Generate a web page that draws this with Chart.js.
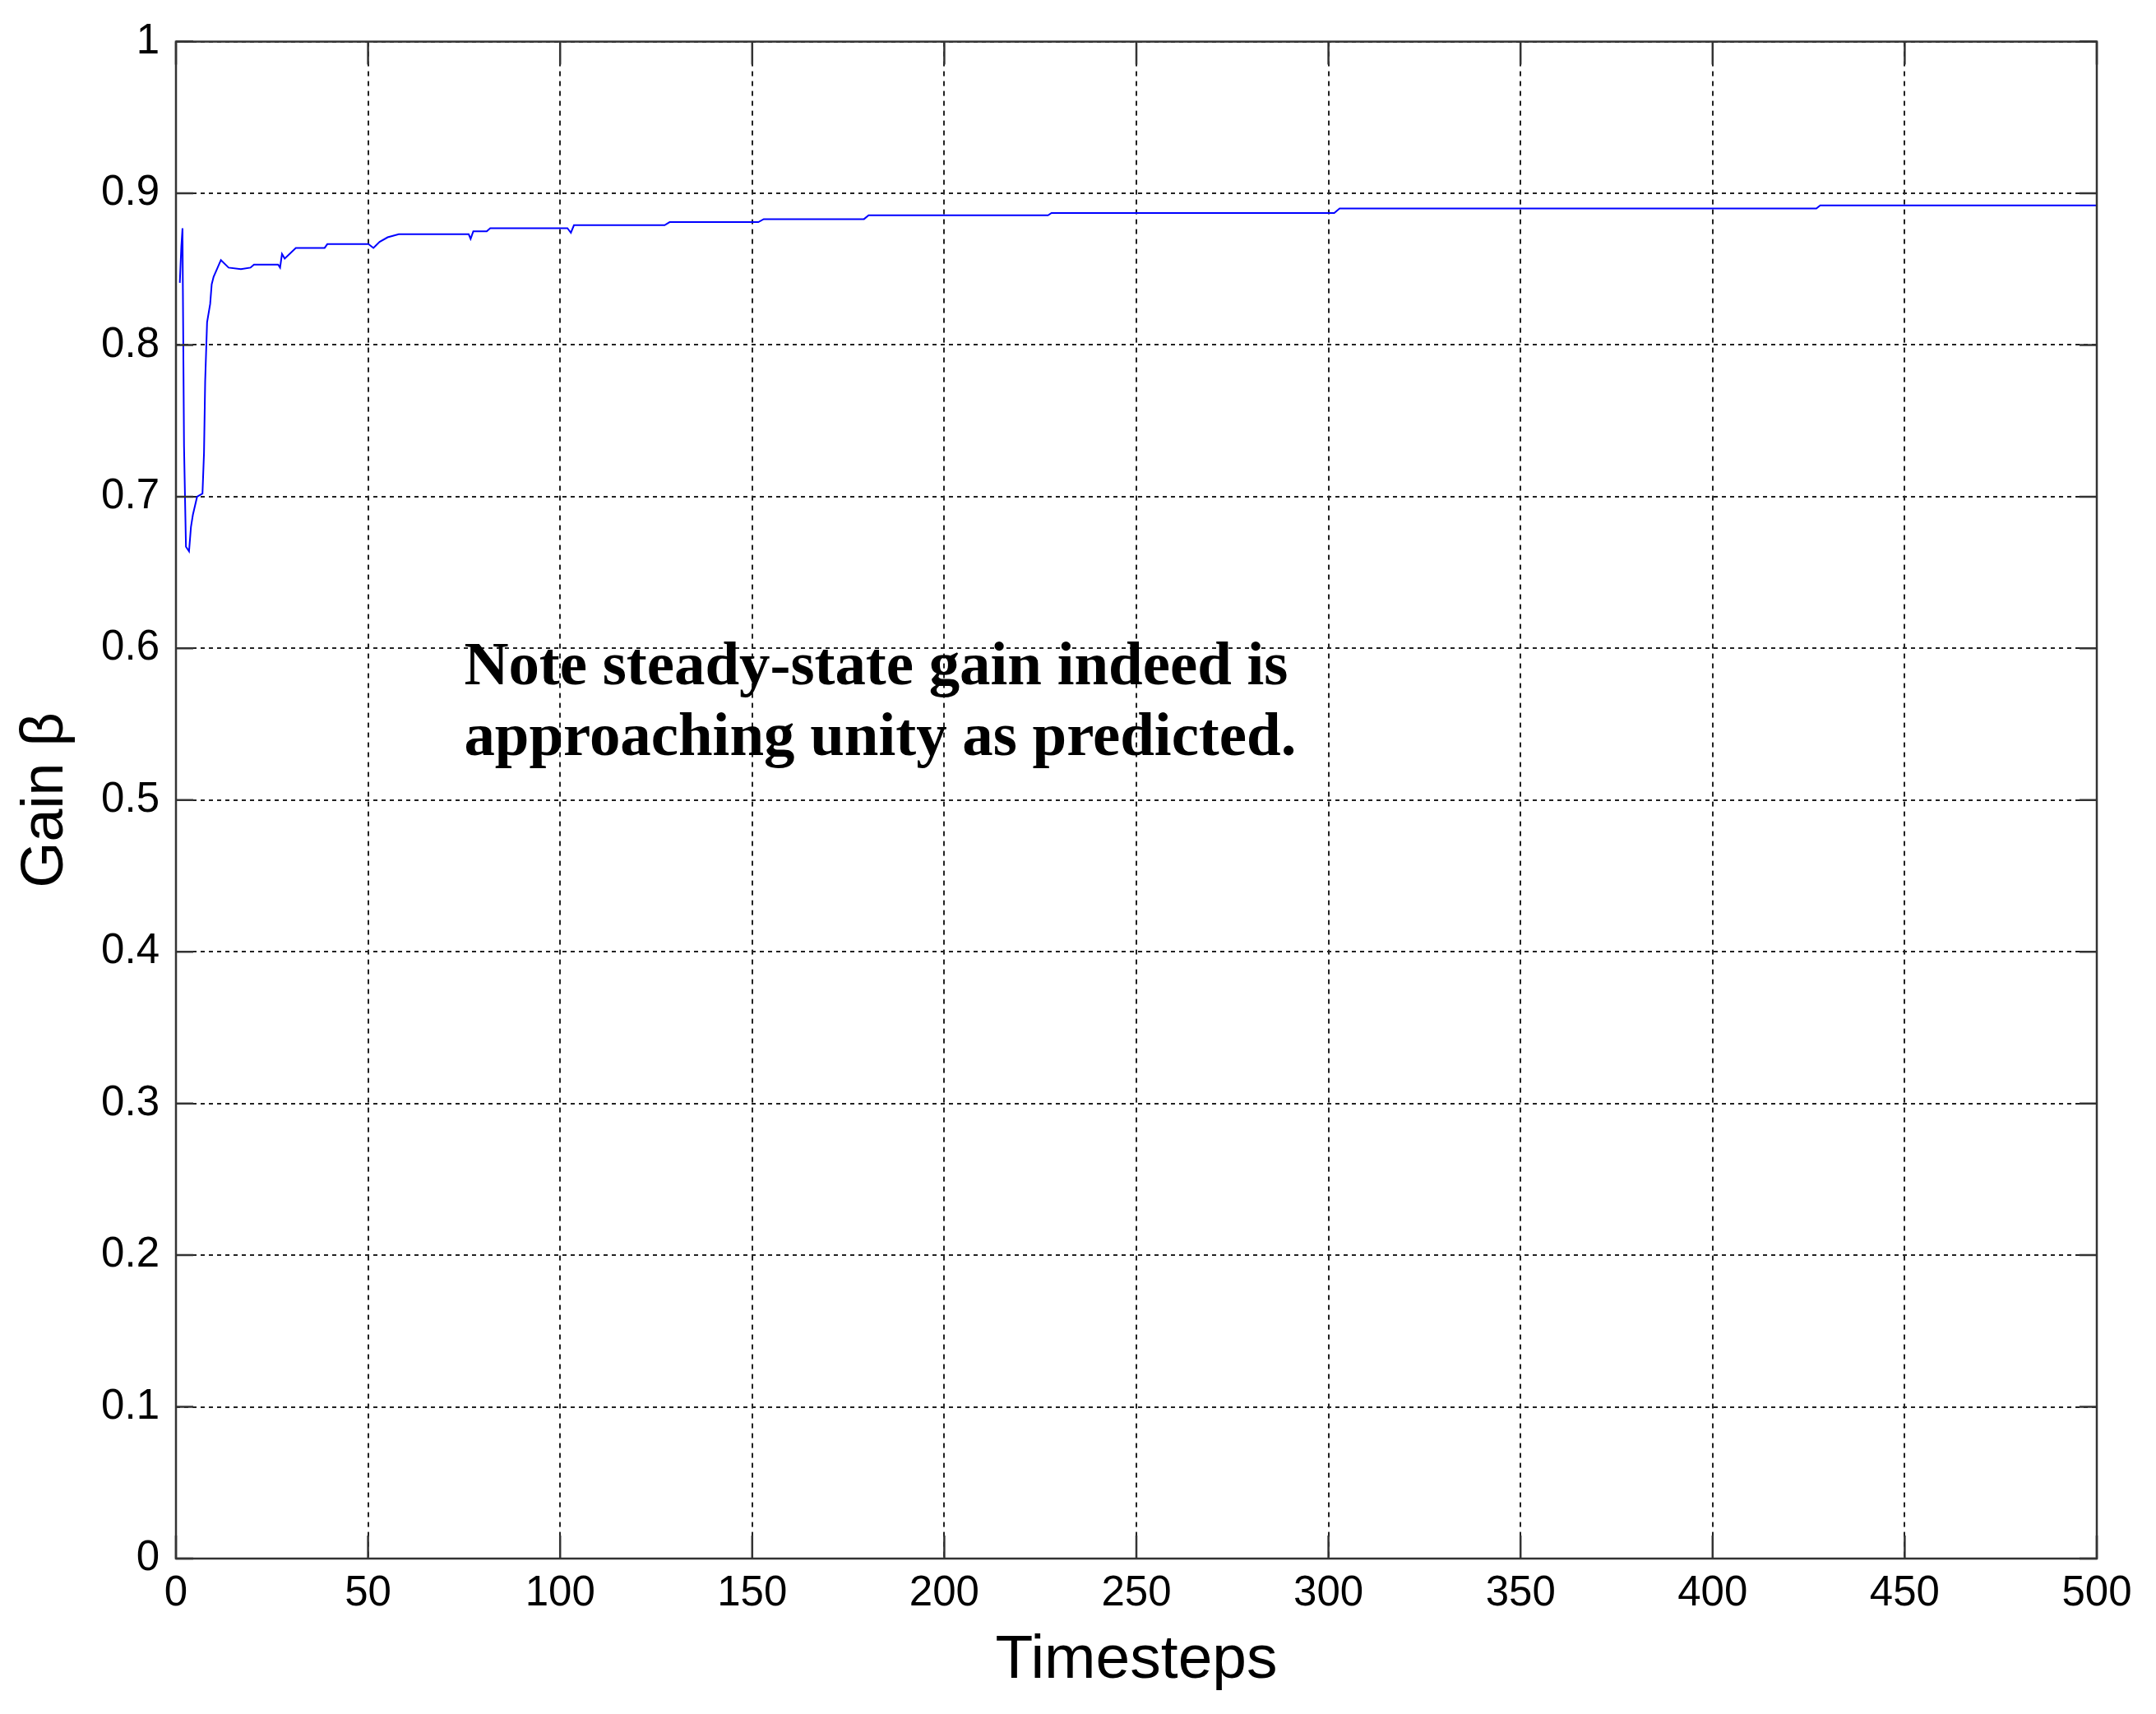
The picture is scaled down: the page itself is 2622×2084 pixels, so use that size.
<!DOCTYPE html>
<html>
<head>
<meta charset="utf-8">
<script src="https://cdn.jsdelivr.net/npm/chart.js@4.4.1/dist/chart.umd.min.js"></script>
<style>
  html, body { margin: 0; padding: 0; background: #fff; }
  canvas { display: block; }
</style>
</head>
<body>
<canvas id="gain-chart" width="2622" height="2084"></canvas>
<script>
// gain beta vs timestep
const timesteps = [1, 1.4, 1.7, 1.8, 2.1, 2.6, 3.4, 3.9, 4.4, 5.5, 6.9, 7.3, 7.6, 8.1, 8.9, 9.3, 9.8,
  11.7, 13.7, 16.9, 19.4, 20.3, 26.6, 27.1, 27.6, 28.3, 31.2, 38.7, 39.4, 50.1, 51.4, 53, 55.1, 58,
  76.2, 76.7, 77.4, 80.9, 81.8, 101.9, 102.8, 103.6, 127.2, 128.5, 151.6, 153, 179.1, 180.3,
  227, 227.9, 301.5, 302.9, 427, 428, 500];
const gain = [0.841, 0.865, 0.877, 0.837, 0.733, 0.667, 0.664, 0.680, 0.688, 0.700, 0.702, 0.729, 0.776, 0.815, 0.827, 0.840, 0.845,
  0.856, 0.851, 0.850, 0.851, 0.853, 0.853, 0.851, 0.860, 0.857, 0.864, 0.864, 0.8665, 0.8665, 0.864, 0.868, 0.871, 0.873,
  0.873, 0.870, 0.875, 0.875, 0.877, 0.877, 0.874, 0.879, 0.879, 0.881, 0.881, 0.883, 0.883, 0.8855,
  0.8855, 0.887, 0.887, 0.890, 0.890, 0.892, 0.892];

const xTicks = [0, 50, 100, 150, 200, 250, 300, 350, 400, 450, 500];
const yTicks = [0, 0.1, 0.2, 0.3, 0.4, 0.5, 0.6, 0.7, 0.8, 0.9, 1];
const noteLines = ["Note steady-state gain indeed is", "approaching unity as predicted."];

const sans = "'Liberation Sans', Arial, sans-serif";

// axes box + inward ticks (matlab style) and the text note
const matlabAxes = {
  id: "matlabAxes",
  afterDraw(chart) {
    const ctx = chart.ctx;
    const a = chart.chartArea;
    const xs = chart.scales.x, ys = chart.scales.y;
    ctx.save();
    ctx.strokeStyle = "#333";
    ctx.lineWidth = 2.5;
    ctx.beginPath();
    xTicks.forEach(v => {
      const px = xs.getPixelForValue(v);
      ctx.moveTo(px, a.bottom); ctx.lineTo(px, a.bottom - 28);
      ctx.moveTo(px, a.top); ctx.lineTo(px, a.top + 28);
    });
    yTicks.forEach(v => {
      const py = ys.getPixelForValue(v);
      ctx.moveTo(a.left, py); ctx.lineTo(a.left + 21, py);
      ctx.moveTo(a.right, py); ctx.lineTo(a.right - 21, py);
    });
    ctx.stroke();
    ctx.strokeRect(a.left, a.top, a.right - a.left, a.bottom - a.top);

    // note text
    ctx.fillStyle = "#000";
    ctx.font = "bold 74px 'Liberation Serif', 'Times New Roman', serif";
    ctx.textBaseline = "alphabetic";
    const sx = 1002 / ctx.measureText(noteLines[0]).width;
    const left = xs.getPixelForValue(75);
    [ys.getPixelForValue(0.5762), ys.getPixelForValue(0.5295)].forEach((by, i) => {
      ctx.save();
      ctx.translate(left, by);
      ctx.scale(sx, 1);
      ctx.fillText(noteLines[i], 0, 0);
      ctx.restore();
    });
    ctx.restore();
  }
};

const gridStyle = { color: "#222", lineWidth: 2, drawTicks: false };

new Chart(document.getElementById("gain-chart").getContext("2d"), {
  type: "scatter",
  data: {
    datasets: [{
      data: timesteps.map((t, i) => ({ x: t, y: gain[i] })),
      showLine: true,
      borderColor: "#0000ff",
      borderWidth: 2,
      pointRadius: 0,
      tension: 0
    }]
  },
  options: {
    responsive: false,
    animation: false,
    devicePixelRatio: 1,
    layout: { padding: { top: 50, right: 72, left: 0, bottom: 0 } },
    plugins: { legend: { display: false }, tooltip: { enabled: false } },
    scales: {
      x: {
        type: "linear",
        min: 0, max: 500,
        afterBuildTicks: s => { s.ticks = xTicks.map(v => ({ value: v })); },
        afterFit: s => { s.height = 189; },
        ticks: { color: "#000", padding: 12, maxRotation: 0, font: { family: sans, size: 51 },
          callback: v => String(v) },
        grid: gridStyle,
        border: { display: false, dash: [6, 6] },
        title: {
          display: true, text: "Timesteps", color: "#000",
          font: { family: sans, size: 75 }, padding: { top: 0, bottom: 20 }
        }
      },
      y: {
        type: "linear",
        min: 0, max: 1,
        afterBuildTicks: s => { s.ticks = yTicks.map(v => ({ value: v })); },
        afterFit: s => { s.width = 214; },
        ticks: { color: "#000", padding: 20, font: { family: sans, size: 51 },
          callback: v => String(v) },
        grid: gridStyle,
        border: { display: false, dash: [5, 5] },
        title: {
          display: true, text: "Gain β", color: "#000",
          font: { family: sans, size: 72 }, padding: { top: 13, bottom: 0 }
        }
      }
    }
  },
  plugins: [matlabAxes]
});
</script>
</body>
</html>
